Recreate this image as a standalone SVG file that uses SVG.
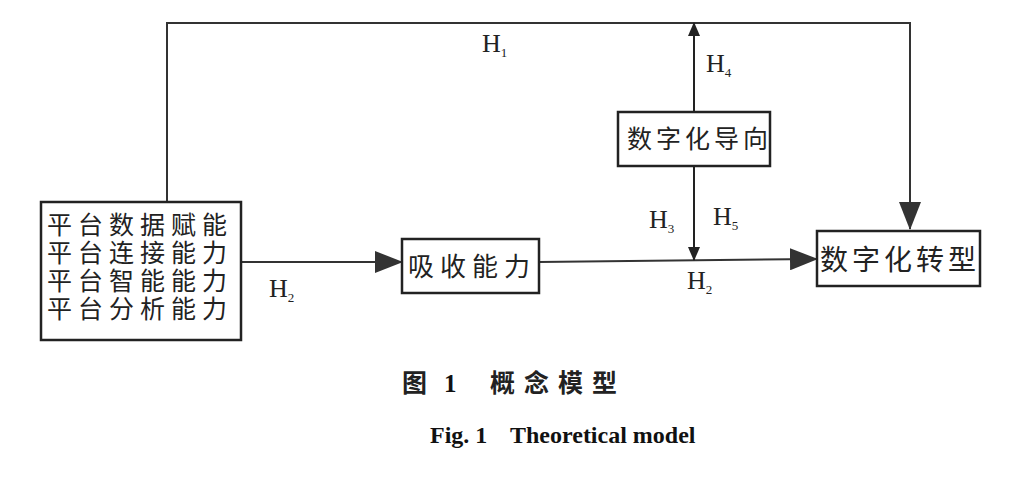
<svg xmlns="http://www.w3.org/2000/svg" width="1024" height="484" viewBox="0 0 1024 484">
<style>
.box{fill:#fff;stroke:#222;stroke-width:2.5}
.cn{font-family:"Noto Sans CJK SC","Noto Sans CJK JP",sans-serif;font-size:26px;fill:#222;letter-spacing:4px}
.cnl{font-family:"Noto Sans CJK SC","Noto Sans CJK JP",sans-serif;font-size:25px;fill:#222;letter-spacing:6px}
.h{font-family:"Liberation Serif",serif;font-size:26px;fill:#222}
.sub{font-size:13px}
.ln{fill:none;stroke:#333;stroke-width:2}
.cap{font-family:"Noto Sans CJK SC",sans-serif;font-size:25px;font-weight:bold;fill:#222}
.capen{font-family:"Liberation Serif",serif;font-size:24px;font-weight:bold;fill:#111}
</style>
<defs>
<marker id="ah" markerWidth="14" markerHeight="12" refX="13" refY="6" orient="auto" markerUnits="userSpaceOnUse">
<path d="M0,0 L14,6 L0,12 Z" fill="#222"/>
</marker>
<marker id="ahBig" markerWidth="28" markerHeight="22" refX="27" refY="11" orient="auto" markerUnits="userSpaceOnUse">
<path d="M0,0 L28,11 L0,22 Z" fill="#333"/>
</marker>
</defs>
<g id="connectors">
<path class="ln" d="M167,202 L167,23 L910,23 L910,229" marker-end="url(#ahBig)"/>
<path class="ln" d="M241,262 L402,262" marker-end="url(#ahBig)"/>
<path class="ln" d="M539,262 L817,259" marker-end="url(#ahBig)"/>
<path class="ln" d="M694,112 L694,23" marker-end="url(#ah)" style="stroke:#222"/>
<path class="ln" d="M694,166 L694,260" marker-end="url(#ah)" style="stroke:#222"/>
</g>
<g id="labels">
<text class="h" x="482" y="52">H<tspan class="sub" dy="5">1</tspan></text>
<text class="h" x="706" y="72">H<tspan class="sub" dy="5">4</tspan></text>
<text class="h" x="649" y="228">H<tspan class="sub" dy="5">3</tspan></text>
<text class="h" x="713" y="225">H<tspan class="sub" dy="5">5</tspan></text>
<text class="h" x="687" y="289">H<tspan class="sub" dy="5">2</tspan></text>
<text class="h" x="269" y="297">H<tspan class="sub" dy="5">2</tspan></text>
</g>
<g id="node-platform">
<rect class="box" x="41" y="202" width="200" height="138"/>
<text class="cnl" x="47" y="234">平台数据赋能<tspan x="47" dy="28">平台连接能力</tspan><tspan x="47" dy="28">平台智能能力</tspan><tspan x="47" dy="28">平台分析能力</tspan></text>
</g>
<g id="node-absorb">
<rect class="box" x="402" y="239" width="137" height="54"/>
<text class="cn" x="408" y="276" style="letter-spacing:6px">吸收能力</text>
</g>
<g id="node-orient">
<rect class="box" x="618" y="112" width="152" height="54"/>
<text class="cn" x="627" y="148" style="font-size:25px">数字化导向</text>
</g>
<g id="node-transform">
<rect class="box" x="817" y="231" width="163" height="55"/>
<text class="cn" x="820" y="270" style="font-size:28px">数字化转型</text>
</g>
<g id="caption">
<text class="cap" x="402" y="392">图<tspan class="capen" x="444" style="font-size:25px">1</tspan></text>
<text class="cap" x="490" y="392" style="letter-spacing:9px">概念模型</text>
<text class="capen" x="430" y="443">Fig. 1</text>
<text class="capen" x="510" y="443">Theoretical model</text>
</g>
</svg>
